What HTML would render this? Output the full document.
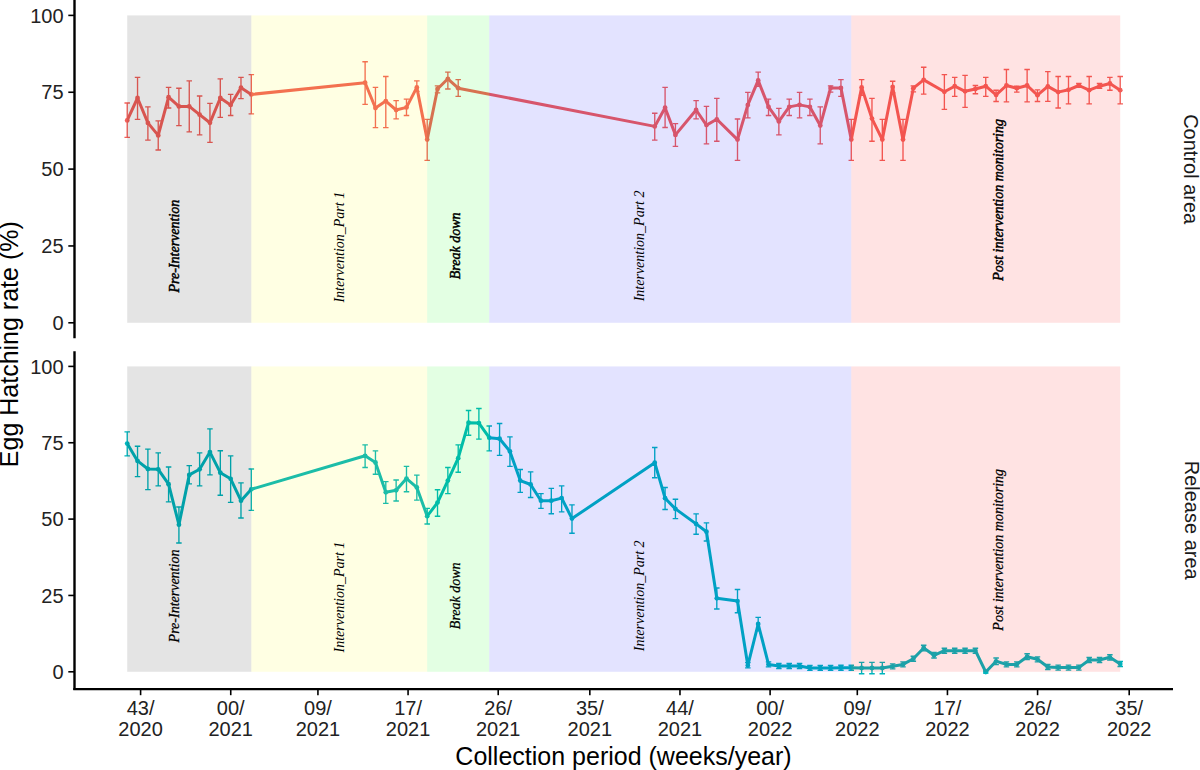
<!DOCTYPE html>
<html><head><meta charset="utf-8"><title>Egg Hatching rate</title>
<style>
html,body{margin:0;padding:0;background:#fff;}
body{width:1200px;height:770px;overflow:hidden;}
svg{display:block;}
.tick{font-family:"Liberation Sans",Arial,Helvetica,sans-serif;font-size:20px;fill:#222;}
.strip{font-family:"Liberation Sans",Arial,Helvetica,sans-serif;font-size:20px;fill:#1a1a1a;}
.title{font-family:"Liberation Sans",Arial,Helvetica,sans-serif;font-size:25px;fill:#000;}
.ann{font-family:"Liberation Serif","Times New Roman",serif;font-style:italic;font-size:14px;fill:#000;}
</style></head>
<body>
<svg width="1200" height="770" viewBox="0 0 1200 770">
<rect width="1200" height="770" fill="#fff"/>
<g id="top">
<polyline points="127.20,120.40 137.54,98.00 147.89,122.90 158.23,135.40 168.58,97.20 178.92,106.40 189.26,106.40 199.61,114.70 209.95,122.80 220.30,98.00 230.64,104.90 240.98,87.70 251.33,94.40 365.11,82.70 375.46,108.00 385.80,101.10 396.14,110.00 406.49,107.40 416.83,87.40 427.18,139.60 437.52,89.00 447.86,78.80 458.21,88.20 654.74,126.40 665.09,107.70 675.43,134.90 696.12,110.00 706.46,125.10 716.81,119.30 737.50,139.60 747.84,104.90 758.18,80.40 768.53,106.90 778.87,121.40 789.22,106.90 799.56,104.90 809.90,106.90 820.25,125.60 830.59,87.90 840.94,87.90 851.28,139.60 861.62,87.40 871.97,118.60 882.31,139.60 892.66,87.00 903.00,139.60 913.34,88.20 923.69,79.90 944.38,91.80 954.72,86.20 965.06,91.30 975.41,89.00 985.75,86.20 996.10,94.90 1006.44,85.50 1016.78,88.20 1027.13,85.50 1037.47,95.20 1047.82,86.40 1058.16,92.10 1068.50,89.80 1078.85,85.50 1089.19,90.20 1099.54,86.20 1109.88,83.50 1120.22,90.20" fill="none" stroke="#F2605A" stroke-width="3.0" stroke-linejoin="round" stroke-linecap="butt"/>
<path d="M124.45 103.00H129.95M127.20 103.00V137.30M124.45 137.30H129.95M134.79 77.30H140.29M137.54 77.30V119.30M134.79 119.30H140.29M145.14 106.90H150.64M147.89 106.90V140.10M145.14 140.10H150.64M155.48 120.90H160.98M158.23 120.90V150.00M155.48 150.00H160.98M165.83 87.40H171.33M168.58 87.40V108.00M165.83 108.00H171.33M176.17 88.20H181.67M178.92 88.20V125.60M176.17 125.60H181.67M186.51 80.90H192.01M189.26 80.90V131.80M186.51 131.80H192.01M196.86 96.00H202.36M199.61 96.00V134.90M196.86 134.90H202.36M207.20 103.30H212.70M209.95 103.30V142.30M207.20 142.30H212.70M217.55 78.80H223.05M220.30 78.80V117.30M217.55 117.30H223.05M227.89 94.40H233.39M230.64 94.40V115.50M227.89 115.50H233.39M238.23 77.30H243.73M240.98 77.30V98.60M238.23 98.60H243.73M248.58 74.60H254.08M251.33 74.60V113.90M248.58 113.90H254.08M362.36 61.70H367.86M365.11 61.70V104.30M362.36 104.30H367.86M372.71 87.40H378.21M375.46 87.40V127.60M372.71 127.60H378.21M383.05 76.50H388.55M385.80 76.50V127.60M383.05 127.60H388.55M393.39 100.60H398.89M396.14 100.60V118.90M393.39 118.90H398.89M403.74 99.10H409.24M406.49 99.10V115.50M403.74 115.50H409.24M414.08 80.90H419.58M416.83 80.90V91.30M414.08 91.30H419.58M424.43 119.30H429.93M427.18 119.30V160.30M424.43 160.30H429.93M434.77 85.80H440.27M437.52 85.80V92.90M434.77 92.90H440.27M445.11 72.10H450.61M447.86 72.10V89.00M445.11 89.00H450.61M455.46 79.60H460.96M458.21 79.60V96.40M455.46 96.40H460.96M651.99 113.20H657.49M654.74 113.20V140.10M651.99 140.10H657.49M662.34 87.40H667.84M665.09 87.40V127.50M662.34 127.50H667.84M672.68 123.60H678.18M675.43 123.60V146.30M672.68 146.30H678.18M693.37 100.60H698.87M696.12 100.60V118.90M693.37 118.90H698.87M703.71 106.40H709.21M706.46 106.40V143.80M703.71 143.80H709.21M714.06 98.30H719.56M716.81 98.30V141.20M714.06 141.20H719.56M734.75 119.00H740.25M737.50 119.00V160.30M734.75 160.30H740.25M745.09 92.40H750.59M747.84 92.40V117.80M745.09 117.80H750.59M755.43 72.10H760.93M758.18 72.10V86.20M755.43 86.20H760.93M765.78 99.10H771.28M768.53 99.10V115.50M765.78 115.50H771.28M776.12 108.40H781.62M778.87 108.40V134.90M776.12 134.90H781.62M786.47 99.10H791.97M789.22 99.10V115.50M786.47 115.50H791.97M796.81 92.40H802.31M799.56 92.40V117.80M796.81 117.80H802.31M807.15 99.10H812.65M809.90 99.10V115.50M807.15 115.50H812.65M817.50 106.90H823.00M820.25 106.90V143.80M817.50 143.80H823.00M827.84 85.80H833.34M830.59 85.80V92.10M827.84 92.10H833.34M838.19 79.60H843.69M840.94 79.60V96.40M838.19 96.40H843.69M848.53 119.30H854.03M851.28 119.30V160.30M848.53 160.30H854.03M858.87 79.60H864.37M861.62 79.60V95.20M858.87 95.20H864.37M869.22 98.30H874.72M871.97 98.30V141.20M869.22 141.20H874.72M879.56 119.30H885.06M882.31 119.30V160.30M879.56 160.30H885.06M889.91 81.20H895.41M892.66 81.20V92.90M889.91 92.90H895.41M900.25 119.30H905.75M903.00 119.30V160.30M900.25 160.30H905.75M910.59 85.80H916.09M913.34 85.80V91.80M910.59 91.80H916.09M920.94 67.20H926.44M923.69 67.20V94.10M920.94 94.10H926.44M941.63 74.60H947.13M944.38 74.60V109.30M941.63 109.30H947.13M951.97 77.30H957.47M954.72 77.30V96.40M951.97 96.40H957.47M962.31 75.30H967.81M965.06 75.30V107.40M962.31 107.40H967.81M972.66 85.50H978.16M975.41 85.50V93.70M972.66 93.70H978.16M983.00 77.30H988.50M985.75 77.30V96.40M983.00 96.40H988.50M993.35 90.20H998.85M996.10 90.20V101.50M993.35 101.50H998.85M1003.69 69.50H1009.19M1006.44 69.50V101.90M1003.69 101.90H1009.19M1014.03 86.20H1019.53M1016.78 86.20V92.10M1014.03 92.10H1019.53M1024.38 69.50H1029.88M1027.13 69.50V101.90M1024.38 101.90H1029.88M1034.72 89.80H1040.22M1037.47 89.80V101.50M1034.72 101.50H1040.22M1045.07 71.60H1050.57M1047.82 71.60V101.30M1045.07 101.30H1050.57M1055.41 76.50H1060.91M1058.16 76.50V108.00M1055.41 108.00H1060.91M1065.75 76.50H1071.25M1068.50 76.50V103.80M1065.75 103.80H1071.25M1076.10 83.50H1081.60M1078.85 83.50V87.40M1076.10 87.40H1081.60M1086.44 76.50H1091.94M1089.19 76.50V103.80M1086.44 103.80H1091.94M1096.79 83.50H1102.29M1099.54 83.50V88.20M1096.79 88.20H1102.29M1107.13 77.30H1112.63M1109.88 77.30V90.20M1107.13 90.20H1112.63M1117.47 76.50H1122.97M1120.22 76.50V103.80M1117.47 103.80H1122.97" fill="none" stroke="#F2605A" stroke-width="1.35"/>
<circle cx="127.20" cy="120.40" r="2.4" fill="#F2605A"/>
<circle cx="137.54" cy="98.00" r="2.4" fill="#F2605A"/>
<circle cx="147.89" cy="122.90" r="2.4" fill="#F2605A"/>
<circle cx="158.23" cy="135.40" r="2.4" fill="#F2605A"/>
<circle cx="168.58" cy="97.20" r="2.4" fill="#F2605A"/>
<circle cx="178.92" cy="106.40" r="2.4" fill="#F2605A"/>
<circle cx="189.26" cy="106.40" r="2.4" fill="#F2605A"/>
<circle cx="199.61" cy="114.70" r="2.4" fill="#F2605A"/>
<circle cx="209.95" cy="122.80" r="2.4" fill="#F2605A"/>
<circle cx="220.30" cy="98.00" r="2.4" fill="#F2605A"/>
<circle cx="230.64" cy="104.90" r="2.4" fill="#F2605A"/>
<circle cx="240.98" cy="87.70" r="2.4" fill="#F2605A"/>
<circle cx="251.33" cy="94.40" r="2.4" fill="#F2605A"/>
<circle cx="365.11" cy="82.70" r="2.4" fill="#F2605A"/>
<circle cx="375.46" cy="108.00" r="2.4" fill="#F2605A"/>
<circle cx="385.80" cy="101.10" r="2.4" fill="#F2605A"/>
<circle cx="396.14" cy="110.00" r="2.4" fill="#F2605A"/>
<circle cx="406.49" cy="107.40" r="2.4" fill="#F2605A"/>
<circle cx="416.83" cy="87.40" r="2.4" fill="#F2605A"/>
<circle cx="427.18" cy="139.60" r="2.4" fill="#F2605A"/>
<circle cx="437.52" cy="89.00" r="2.4" fill="#F2605A"/>
<circle cx="447.86" cy="78.80" r="2.4" fill="#F2605A"/>
<circle cx="458.21" cy="88.20" r="2.4" fill="#F2605A"/>
<circle cx="654.74" cy="126.40" r="2.4" fill="#F2605A"/>
<circle cx="665.09" cy="107.70" r="2.4" fill="#F2605A"/>
<circle cx="675.43" cy="134.90" r="2.4" fill="#F2605A"/>
<circle cx="696.12" cy="110.00" r="2.4" fill="#F2605A"/>
<circle cx="706.46" cy="125.10" r="2.4" fill="#F2605A"/>
<circle cx="716.81" cy="119.30" r="2.4" fill="#F2605A"/>
<circle cx="737.50" cy="139.60" r="2.4" fill="#F2605A"/>
<circle cx="747.84" cy="104.90" r="2.4" fill="#F2605A"/>
<circle cx="758.18" cy="80.40" r="2.4" fill="#F2605A"/>
<circle cx="768.53" cy="106.90" r="2.4" fill="#F2605A"/>
<circle cx="778.87" cy="121.40" r="2.4" fill="#F2605A"/>
<circle cx="789.22" cy="106.90" r="2.4" fill="#F2605A"/>
<circle cx="799.56" cy="104.90" r="2.4" fill="#F2605A"/>
<circle cx="809.90" cy="106.90" r="2.4" fill="#F2605A"/>
<circle cx="820.25" cy="125.60" r="2.4" fill="#F2605A"/>
<circle cx="830.59" cy="87.90" r="2.4" fill="#F2605A"/>
<circle cx="840.94" cy="87.90" r="2.4" fill="#F2605A"/>
<circle cx="851.28" cy="139.60" r="2.4" fill="#F2605A"/>
<circle cx="861.62" cy="87.40" r="2.4" fill="#F2605A"/>
<circle cx="871.97" cy="118.60" r="2.4" fill="#F2605A"/>
<circle cx="882.31" cy="139.60" r="2.4" fill="#F2605A"/>
<circle cx="892.66" cy="87.00" r="2.4" fill="#F2605A"/>
<circle cx="903.00" cy="139.60" r="2.4" fill="#F2605A"/>
<circle cx="913.34" cy="88.20" r="2.4" fill="#F2605A"/>
<circle cx="923.69" cy="79.90" r="2.4" fill="#F2605A"/>
<circle cx="944.38" cy="91.80" r="2.4" fill="#F2605A"/>
<circle cx="954.72" cy="86.20" r="2.4" fill="#F2605A"/>
<circle cx="965.06" cy="91.30" r="2.4" fill="#F2605A"/>
<circle cx="975.41" cy="89.00" r="2.4" fill="#F2605A"/>
<circle cx="985.75" cy="86.20" r="2.4" fill="#F2605A"/>
<circle cx="996.10" cy="94.90" r="2.4" fill="#F2605A"/>
<circle cx="1006.44" cy="85.50" r="2.4" fill="#F2605A"/>
<circle cx="1016.78" cy="88.20" r="2.4" fill="#F2605A"/>
<circle cx="1027.13" cy="85.50" r="2.4" fill="#F2605A"/>
<circle cx="1037.47" cy="95.20" r="2.4" fill="#F2605A"/>
<circle cx="1047.82" cy="86.40" r="2.4" fill="#F2605A"/>
<circle cx="1058.16" cy="92.10" r="2.4" fill="#F2605A"/>
<circle cx="1068.50" cy="89.80" r="2.4" fill="#F2605A"/>
<circle cx="1078.85" cy="85.50" r="2.4" fill="#F2605A"/>
<circle cx="1089.19" cy="90.20" r="2.4" fill="#F2605A"/>
<circle cx="1099.54" cy="86.20" r="2.4" fill="#F2605A"/>
<circle cx="1109.88" cy="83.50" r="2.4" fill="#F2605A"/>
<circle cx="1120.22" cy="90.20" r="2.4" fill="#F2605A"/>
<rect x="127.20" y="15.40" width="124.13" height="307.40" fill="#000000" fill-opacity="0.105"/>
<rect x="251.33" y="15.40" width="175.85" height="307.40" fill="#FFFF00" fill-opacity="0.11"/>
<rect x="427.18" y="15.40" width="62.06" height="307.40" fill="#00FF00" fill-opacity="0.11"/>
<rect x="489.24" y="15.40" width="362.04" height="307.40" fill="#0000FF" fill-opacity="0.11"/>
<rect x="851.28" y="15.40" width="268.94" height="307.40" fill="#FF0000" fill-opacity="0.11"/>
<text class="ann" transform="translate(178.6,246.1) rotate(-90)" text-anchor="middle" stroke="#000" stroke-width="0.45">Pre-Intervention</text>
<text class="ann" transform="translate(343.8,247.2) rotate(-90)" text-anchor="middle">Intervention_Part 1</text>
<text class="ann" transform="translate(459.6,245.9) rotate(-90)" text-anchor="middle" stroke="#000" stroke-width="0.45">Break down</text>
<text class="ann" transform="translate(644.0,245.9) rotate(-90)" text-anchor="middle">Intervention_Part 2</text>
<text class="ann" transform="translate(1002.6,199.9) rotate(-90)" text-anchor="middle" stroke="#000" stroke-width="0.45">Post intervention monitoring</text>
</g>
<g id="bot">
<polyline points="127.20,443.60 137.54,460.90 147.89,469.00 158.23,469.30 168.58,484.20 178.92,524.70 189.26,474.90 199.61,469.30 209.95,452.10 220.30,472.70 230.64,478.80 240.98,500.70 251.33,489.30 365.11,455.80 375.46,462.50 385.80,492.30 396.14,490.30 406.49,478.60 416.83,487.40 427.18,516.20 437.52,502.60 447.86,480.60 458.21,458.20 468.55,422.70 478.90,423.10 489.24,437.70 499.58,438.70 509.93,451.40 520.27,480.60 530.62,484.50 540.96,500.70 551.30,500.70 561.65,498.10 571.99,518.60 654.74,462.70 665.09,498.20 675.43,508.90 696.12,523.90 706.46,531.70 716.81,598.30 737.50,601.10 747.84,665.40 758.18,624.00 768.53,664.40 778.87,666.00 789.22,666.00 799.56,666.00 809.90,667.90 820.25,667.90 830.59,667.90 840.94,667.70 851.28,667.70 861.62,668.00 871.97,668.00 882.31,668.00 892.66,666.30 903.00,664.40 913.34,658.70 923.69,648.00 934.03,655.30 944.38,650.70 954.72,650.70 965.06,650.70 975.41,650.70 985.75,672.00 996.10,661.30 1006.44,664.40 1016.78,664.40 1027.13,656.70 1037.47,659.30 1047.82,667.00 1058.16,667.60 1068.50,667.60 1078.85,667.60 1089.19,660.00 1099.54,660.00 1109.88,657.30 1120.22,664.00" fill="none" stroke="#00B5BD" stroke-width="3.0" stroke-linejoin="round" stroke-linecap="butt"/>
<path d="M124.45 431.80H129.95M127.20 431.80V455.80M124.45 455.80H129.95M134.79 446.20H140.29M137.54 446.20V476.60M134.79 476.60H140.29M145.14 449.10H150.64M147.89 449.10V489.60M145.14 489.60H150.64M155.48 452.90H160.98M158.23 452.90V485.90M155.48 485.90H160.98M165.83 467.00H171.33M168.58 467.00V501.90M165.83 501.90H171.33M176.17 507.00H181.67M178.92 507.00V543.00M176.17 543.00H181.67M186.51 465.60H192.01M189.26 465.60V483.90M186.51 483.90H192.01M196.86 452.90H202.36M199.61 452.90V485.90M196.86 485.90H202.36M207.20 428.80H212.70M209.95 428.80V474.90M207.20 474.90H212.70M217.55 450.70H223.05M220.30 450.70V495.20M217.55 495.20H223.05M227.89 455.80H233.39M230.64 455.80V502.40M227.89 502.40H233.39M238.23 482.80H243.73M240.98 482.80V518.00M238.23 518.00H243.73M248.58 469.00H254.08M251.33 469.00V510.40M248.58 510.40H254.08M362.36 444.90H367.86M365.11 444.90V467.50M362.36 467.50H367.86M372.71 450.80H378.21M375.46 450.80V474.20M372.71 474.20H378.21M383.05 481.60H388.55M385.80 481.60V503.40M383.05 503.40H388.55M393.39 480.00H398.89M396.14 480.00V501.00M393.39 501.00H398.89M403.74 466.40H409.24M406.49 466.40V491.70M403.74 491.70H409.24M414.08 475.10H419.58M416.83 475.10V500.10M414.08 500.10H419.58M424.43 508.40H429.93M427.18 508.40V524.00M424.43 524.00H429.93M434.77 489.70H440.27M437.52 489.70V516.20M434.77 516.20H440.27M445.11 467.50H450.61M447.86 467.50V493.60M445.11 493.60H450.61M455.46 444.90H460.96M458.21 444.90V472.20M455.46 472.20H460.96M465.80 410.50H471.30M468.55 410.50V435.20M465.80 435.20H471.30M476.15 408.50H481.65M478.90 408.50V439.10M476.15 439.10H481.65M486.49 426.00H491.99M489.24 426.00V450.80M486.49 450.80H491.99M496.83 423.50H502.33M499.58 423.50V455.30M496.83 455.30H502.33M507.18 436.80H512.68M509.93 436.80V466.40M507.18 466.40H512.68M517.52 469.50H523.02M520.27 469.50V492.30M517.52 492.30H523.02M527.87 471.80H533.37M530.62 471.80V497.50M527.87 497.50H533.37M538.21 493.60H543.71M540.96 493.60V508.40M538.21 508.40H543.71M548.55 488.40H554.05M551.30 488.40V513.70M548.55 513.70H554.05M558.90 485.80H564.40M561.65 485.80V511.80M558.90 511.80H564.40M569.24 504.90H574.74M571.99 504.90V533.20M569.24 533.20H574.74M651.99 447.50H657.49M654.74 447.50V477.70M651.99 477.70H657.49M662.34 487.50H667.84M665.09 487.50V509.50M662.34 509.50H667.84M672.68 499.20H678.18M675.43 499.20V518.60M672.68 518.60H678.18M693.37 513.80H698.87M696.12 513.80V534.20M693.37 534.20H698.87M703.71 522.90H709.21M706.46 522.90V541.00M703.71 541.00H709.21M714.06 588.00H719.56M716.81 588.00V609.00M714.06 609.00H719.56M734.75 589.50H740.25M737.50 589.50V612.70M734.75 612.70H740.25M745.09 662.60H750.59M747.84 662.60V667.80M745.09 667.80H750.59M755.43 617.30H760.93M758.18 617.30V630.70M755.43 630.70H760.93M765.78 661.90H771.28M768.53 661.90V666.90M765.78 666.90H771.28M776.12 663.50H781.62M778.87 663.50V668.50M776.12 668.50H781.62M786.47 663.50H791.97M789.22 663.50V668.50M786.47 668.50H791.97M796.81 663.50H802.31M799.56 663.50V668.50M796.81 668.50H802.31M807.15 665.40H812.65M809.90 665.40V670.40M807.15 670.40H812.65M817.50 665.40H823.00M820.25 665.40V670.40M817.50 670.40H823.00M827.84 665.40H833.34M830.59 665.40V670.40M827.84 670.40H833.34M838.19 665.20H843.69M840.94 665.20V670.20M838.19 670.20H843.69M848.53 665.20H854.03M851.28 665.20V670.20M848.53 670.20H854.03M858.87 662.40H864.37M861.62 662.40V673.70M858.87 673.70H864.37M869.22 662.40H874.72M871.97 662.40V673.70M869.22 673.70H874.72M879.56 662.40H885.06M882.31 662.40V673.70M879.56 673.70H885.06M889.91 663.80H895.41M892.66 663.80V668.80M889.91 668.80H895.41M900.25 661.90H905.75M903.00 661.90V666.90M900.25 666.90H905.75M910.59 656.20H916.09M913.34 656.20V661.20M910.59 661.20H916.09M920.94 645.20H926.44M923.69 645.20V650.80M920.94 650.80H926.44M931.28 652.50H936.78M934.03 652.50V658.00M931.28 658.00H936.78M941.63 648.20H947.13M944.38 648.20V653.20M941.63 653.20H947.13M951.97 648.20H957.47M954.72 648.20V653.20M951.97 653.20H957.47M962.31 648.20H967.81M965.06 648.20V653.20M962.31 653.20H967.81M972.66 648.20H978.16M975.41 648.20V653.20M972.66 653.20H978.16M983.00 671.00H988.50M985.75 671.00V673.00M983.00 673.00H988.50M993.35 658.00H998.85M996.10 658.00V664.60M993.35 664.60H998.85M1003.69 661.90H1009.19M1006.44 661.90V666.90M1003.69 666.90H1009.19M1014.03 661.90H1019.53M1016.78 661.90V666.90M1014.03 666.90H1019.53M1024.38 653.70H1029.88M1027.13 653.70V659.60M1024.38 659.60H1029.88M1034.72 656.80H1040.22M1037.47 656.80V661.80M1034.72 661.80H1040.22M1045.07 664.50H1050.57M1047.82 664.50V669.50M1045.07 669.50H1050.57M1055.41 665.10H1060.91M1058.16 665.10V670.10M1055.41 670.10H1060.91M1065.75 665.10H1071.25M1068.50 665.10V670.10M1065.75 670.10H1071.25M1076.10 665.10H1081.60M1078.85 665.10V670.10M1076.10 670.10H1081.60M1086.44 657.50H1091.94M1089.19 657.50V662.50M1086.44 662.50H1091.94M1096.79 657.50H1102.29M1099.54 657.50V662.50M1096.79 662.50H1102.29M1107.13 654.70H1112.63M1109.88 654.70V660.00M1107.13 660.00H1112.63M1117.47 661.50H1122.97M1120.22 661.50V666.50M1117.47 666.50H1122.97" fill="none" stroke="#00B5BD" stroke-width="1.35"/>
<circle cx="127.20" cy="443.60" r="2.4" fill="#00B5BD"/>
<circle cx="137.54" cy="460.90" r="2.4" fill="#00B5BD"/>
<circle cx="147.89" cy="469.00" r="2.4" fill="#00B5BD"/>
<circle cx="158.23" cy="469.30" r="2.4" fill="#00B5BD"/>
<circle cx="168.58" cy="484.20" r="2.4" fill="#00B5BD"/>
<circle cx="178.92" cy="524.70" r="2.4" fill="#00B5BD"/>
<circle cx="189.26" cy="474.90" r="2.4" fill="#00B5BD"/>
<circle cx="199.61" cy="469.30" r="2.4" fill="#00B5BD"/>
<circle cx="209.95" cy="452.10" r="2.4" fill="#00B5BD"/>
<circle cx="220.30" cy="472.70" r="2.4" fill="#00B5BD"/>
<circle cx="230.64" cy="478.80" r="2.4" fill="#00B5BD"/>
<circle cx="240.98" cy="500.70" r="2.4" fill="#00B5BD"/>
<circle cx="251.33" cy="489.30" r="2.4" fill="#00B5BD"/>
<circle cx="365.11" cy="455.80" r="2.4" fill="#00B5BD"/>
<circle cx="375.46" cy="462.50" r="2.4" fill="#00B5BD"/>
<circle cx="385.80" cy="492.30" r="2.4" fill="#00B5BD"/>
<circle cx="396.14" cy="490.30" r="2.4" fill="#00B5BD"/>
<circle cx="406.49" cy="478.60" r="2.4" fill="#00B5BD"/>
<circle cx="416.83" cy="487.40" r="2.4" fill="#00B5BD"/>
<circle cx="427.18" cy="516.20" r="2.4" fill="#00B5BD"/>
<circle cx="437.52" cy="502.60" r="2.4" fill="#00B5BD"/>
<circle cx="447.86" cy="480.60" r="2.4" fill="#00B5BD"/>
<circle cx="458.21" cy="458.20" r="2.4" fill="#00B5BD"/>
<circle cx="468.55" cy="422.70" r="2.4" fill="#00B5BD"/>
<circle cx="478.90" cy="423.10" r="2.4" fill="#00B5BD"/>
<circle cx="489.24" cy="437.70" r="2.4" fill="#00B5BD"/>
<circle cx="499.58" cy="438.70" r="2.4" fill="#00B5BD"/>
<circle cx="509.93" cy="451.40" r="2.4" fill="#00B5BD"/>
<circle cx="520.27" cy="480.60" r="2.4" fill="#00B5BD"/>
<circle cx="530.62" cy="484.50" r="2.4" fill="#00B5BD"/>
<circle cx="540.96" cy="500.70" r="2.4" fill="#00B5BD"/>
<circle cx="551.30" cy="500.70" r="2.4" fill="#00B5BD"/>
<circle cx="561.65" cy="498.10" r="2.4" fill="#00B5BD"/>
<circle cx="571.99" cy="518.60" r="2.4" fill="#00B5BD"/>
<circle cx="654.74" cy="462.70" r="2.4" fill="#00B5BD"/>
<circle cx="665.09" cy="498.20" r="2.4" fill="#00B5BD"/>
<circle cx="675.43" cy="508.90" r="2.4" fill="#00B5BD"/>
<circle cx="696.12" cy="523.90" r="2.4" fill="#00B5BD"/>
<circle cx="706.46" cy="531.70" r="2.4" fill="#00B5BD"/>
<circle cx="716.81" cy="598.30" r="2.4" fill="#00B5BD"/>
<circle cx="737.50" cy="601.10" r="2.4" fill="#00B5BD"/>
<circle cx="747.84" cy="665.40" r="2.4" fill="#00B5BD"/>
<circle cx="758.18" cy="624.00" r="2.4" fill="#00B5BD"/>
<circle cx="768.53" cy="664.40" r="2.4" fill="#00B5BD"/>
<circle cx="778.87" cy="666.00" r="2.4" fill="#00B5BD"/>
<circle cx="789.22" cy="666.00" r="2.4" fill="#00B5BD"/>
<circle cx="799.56" cy="666.00" r="2.4" fill="#00B5BD"/>
<circle cx="809.90" cy="667.90" r="2.4" fill="#00B5BD"/>
<circle cx="820.25" cy="667.90" r="2.4" fill="#00B5BD"/>
<circle cx="830.59" cy="667.90" r="2.4" fill="#00B5BD"/>
<circle cx="840.94" cy="667.70" r="2.4" fill="#00B5BD"/>
<circle cx="851.28" cy="667.70" r="2.4" fill="#00B5BD"/>
<circle cx="861.62" cy="668.00" r="2.4" fill="#00B5BD"/>
<circle cx="871.97" cy="668.00" r="2.4" fill="#00B5BD"/>
<circle cx="882.31" cy="668.00" r="2.4" fill="#00B5BD"/>
<circle cx="892.66" cy="666.30" r="2.4" fill="#00B5BD"/>
<circle cx="903.00" cy="664.40" r="2.4" fill="#00B5BD"/>
<circle cx="913.34" cy="658.70" r="2.4" fill="#00B5BD"/>
<circle cx="923.69" cy="648.00" r="2.4" fill="#00B5BD"/>
<circle cx="934.03" cy="655.30" r="2.4" fill="#00B5BD"/>
<circle cx="944.38" cy="650.70" r="2.4" fill="#00B5BD"/>
<circle cx="954.72" cy="650.70" r="2.4" fill="#00B5BD"/>
<circle cx="965.06" cy="650.70" r="2.4" fill="#00B5BD"/>
<circle cx="975.41" cy="650.70" r="2.4" fill="#00B5BD"/>
<circle cx="985.75" cy="672.00" r="2.4" fill="#00B5BD"/>
<circle cx="996.10" cy="661.30" r="2.4" fill="#00B5BD"/>
<circle cx="1006.44" cy="664.40" r="2.4" fill="#00B5BD"/>
<circle cx="1016.78" cy="664.40" r="2.4" fill="#00B5BD"/>
<circle cx="1027.13" cy="656.70" r="2.4" fill="#00B5BD"/>
<circle cx="1037.47" cy="659.30" r="2.4" fill="#00B5BD"/>
<circle cx="1047.82" cy="667.00" r="2.4" fill="#00B5BD"/>
<circle cx="1058.16" cy="667.60" r="2.4" fill="#00B5BD"/>
<circle cx="1068.50" cy="667.60" r="2.4" fill="#00B5BD"/>
<circle cx="1078.85" cy="667.60" r="2.4" fill="#00B5BD"/>
<circle cx="1089.19" cy="660.00" r="2.4" fill="#00B5BD"/>
<circle cx="1099.54" cy="660.00" r="2.4" fill="#00B5BD"/>
<circle cx="1109.88" cy="657.30" r="2.4" fill="#00B5BD"/>
<circle cx="1120.22" cy="664.00" r="2.4" fill="#00B5BD"/>
<rect x="127.20" y="366.40" width="124.13" height="305.40" fill="#000000" fill-opacity="0.105"/>
<rect x="251.33" y="366.40" width="175.85" height="305.40" fill="#FFFF00" fill-opacity="0.11"/>
<rect x="427.18" y="366.40" width="62.06" height="305.40" fill="#00FF00" fill-opacity="0.11"/>
<rect x="489.24" y="366.40" width="362.04" height="305.40" fill="#0000FF" fill-opacity="0.11"/>
<rect x="851.28" y="366.40" width="268.94" height="305.40" fill="#FF0000" fill-opacity="0.11"/>
<text class="ann" transform="translate(178.6,596.0) rotate(-90)" text-anchor="middle" stroke="#000" stroke-width="0.25">Pre-Intervention</text>
<text class="ann" transform="translate(343.8,597.0999999999999) rotate(-90)" text-anchor="middle">Intervention_Part 1</text>
<text class="ann" transform="translate(459.6,595.8) rotate(-90)" text-anchor="middle" stroke="#000" stroke-width="0.25">Break down</text>
<text class="ann" transform="translate(644.0,595.8) rotate(-90)" text-anchor="middle">Intervention_Part 2</text>
<text class="ann" transform="translate(1002.6,549.8) rotate(-90)" text-anchor="middle" stroke="#000" stroke-width="0.25">Post intervention monitoring</text>
</g>
<line x1="74.5" y1="0" x2="74.5" y2="338.2" stroke="#000" stroke-width="2.4"/>
<line x1="68.3" y1="322.80" x2="74.5" y2="322.80" stroke="#000" stroke-width="1.6"/>
<text class="tick" x="63.6" y="330.00" text-anchor="end">0</text>
<line x1="68.3" y1="245.95" x2="74.5" y2="245.95" stroke="#000" stroke-width="1.6"/>
<text class="tick" x="63.6" y="253.15" text-anchor="end">25</text>
<line x1="68.3" y1="169.10" x2="74.5" y2="169.10" stroke="#000" stroke-width="1.6"/>
<text class="tick" x="63.6" y="176.30" text-anchor="end">50</text>
<line x1="68.3" y1="92.25" x2="74.5" y2="92.25" stroke="#000" stroke-width="1.6"/>
<text class="tick" x="63.6" y="99.45" text-anchor="end">75</text>
<line x1="68.3" y1="15.40" x2="74.5" y2="15.40" stroke="#000" stroke-width="1.6"/>
<text class="tick" x="63.6" y="22.60" text-anchor="end">100</text>
<line x1="74.5" y1="351.2" x2="74.5" y2="690.1" stroke="#000" stroke-width="2.4"/>
<line x1="68.3" y1="671.80" x2="74.5" y2="671.80" stroke="#000" stroke-width="1.6"/>
<text class="tick" x="63.6" y="679.00" text-anchor="end">0</text>
<line x1="68.3" y1="595.45" x2="74.5" y2="595.45" stroke="#000" stroke-width="1.6"/>
<text class="tick" x="63.6" y="602.65" text-anchor="end">25</text>
<line x1="68.3" y1="519.10" x2="74.5" y2="519.10" stroke="#000" stroke-width="1.6"/>
<text class="tick" x="63.6" y="526.30" text-anchor="end">50</text>
<line x1="68.3" y1="442.75" x2="74.5" y2="442.75" stroke="#000" stroke-width="1.6"/>
<text class="tick" x="63.6" y="449.95" text-anchor="end">75</text>
<line x1="68.3" y1="366.40" x2="74.5" y2="366.40" stroke="#000" stroke-width="1.6"/>
<text class="tick" x="63.6" y="373.60" text-anchor="end">100</text>
<line x1="73.3" y1="689.1" x2="1173.0" y2="689.1" stroke="#000" stroke-width="2.4"/>
<line x1="140.60" y1="689" x2="140.60" y2="695.2" stroke="#000" stroke-width="1.6"/>
<text class="tick" x="140.60" y="715.1" text-anchor="middle">43/</text>
<text class="tick" x="140.60" y="736.4" text-anchor="middle">2020</text>
<line x1="230.74" y1="689" x2="230.74" y2="695.2" stroke="#000" stroke-width="1.6"/>
<text class="tick" x="230.74" y="715.1" text-anchor="middle">00/</text>
<text class="tick" x="230.74" y="736.4" text-anchor="middle">2021</text>
<line x1="317.93" y1="689" x2="317.93" y2="695.2" stroke="#000" stroke-width="1.6"/>
<text class="tick" x="317.93" y="715.1" text-anchor="middle">09/</text>
<text class="tick" x="317.93" y="736.4" text-anchor="middle">2021</text>
<line x1="408.07" y1="689" x2="408.07" y2="695.2" stroke="#000" stroke-width="1.6"/>
<text class="tick" x="408.07" y="715.1" text-anchor="middle">17/</text>
<text class="tick" x="408.07" y="736.4" text-anchor="middle">2021</text>
<line x1="498.21" y1="689" x2="498.21" y2="695.2" stroke="#000" stroke-width="1.6"/>
<text class="tick" x="498.21" y="715.1" text-anchor="middle">26/</text>
<text class="tick" x="498.21" y="736.4" text-anchor="middle">2021</text>
<line x1="589.83" y1="689" x2="589.83" y2="695.2" stroke="#000" stroke-width="1.6"/>
<text class="tick" x="589.83" y="715.1" text-anchor="middle">35/</text>
<text class="tick" x="589.83" y="736.4" text-anchor="middle">2021</text>
<line x1="679.97" y1="689" x2="679.97" y2="695.2" stroke="#000" stroke-width="1.6"/>
<text class="tick" x="679.97" y="715.1" text-anchor="middle">44/</text>
<text class="tick" x="679.97" y="736.4" text-anchor="middle">2021</text>
<line x1="770.11" y1="689" x2="770.11" y2="695.2" stroke="#000" stroke-width="1.6"/>
<text class="tick" x="770.11" y="715.1" text-anchor="middle">00/</text>
<text class="tick" x="770.11" y="736.4" text-anchor="middle">2022</text>
<line x1="857.30" y1="689" x2="857.30" y2="695.2" stroke="#000" stroke-width="1.6"/>
<text class="tick" x="857.30" y="715.1" text-anchor="middle">09/</text>
<text class="tick" x="857.30" y="736.4" text-anchor="middle">2022</text>
<line x1="947.44" y1="689" x2="947.44" y2="695.2" stroke="#000" stroke-width="1.6"/>
<text class="tick" x="947.44" y="715.1" text-anchor="middle">17/</text>
<text class="tick" x="947.44" y="736.4" text-anchor="middle">2022</text>
<line x1="1037.58" y1="689" x2="1037.58" y2="695.2" stroke="#000" stroke-width="1.6"/>
<text class="tick" x="1037.58" y="715.1" text-anchor="middle">26/</text>
<text class="tick" x="1037.58" y="736.4" text-anchor="middle">2022</text>
<line x1="1129.20" y1="689" x2="1129.20" y2="695.2" stroke="#000" stroke-width="1.6"/>
<text class="tick" x="1129.20" y="715.1" text-anchor="middle">35/</text>
<text class="tick" x="1129.20" y="736.4" text-anchor="middle">2022</text>
<text class="strip" transform="translate(1184.2,169.2) rotate(90)" text-anchor="middle">Control area</text>
<text class="strip" transform="translate(1184.6,520.2) rotate(90)" text-anchor="middle">Release area</text>
<text class="title" transform="translate(18.3,344.2) rotate(-90)" text-anchor="middle">Egg Hatching rate (%)</text>
<text class="title" x="623.5" y="764.8" text-anchor="middle">Collection period (weeks/year)</text>
</svg>
</body></html>
